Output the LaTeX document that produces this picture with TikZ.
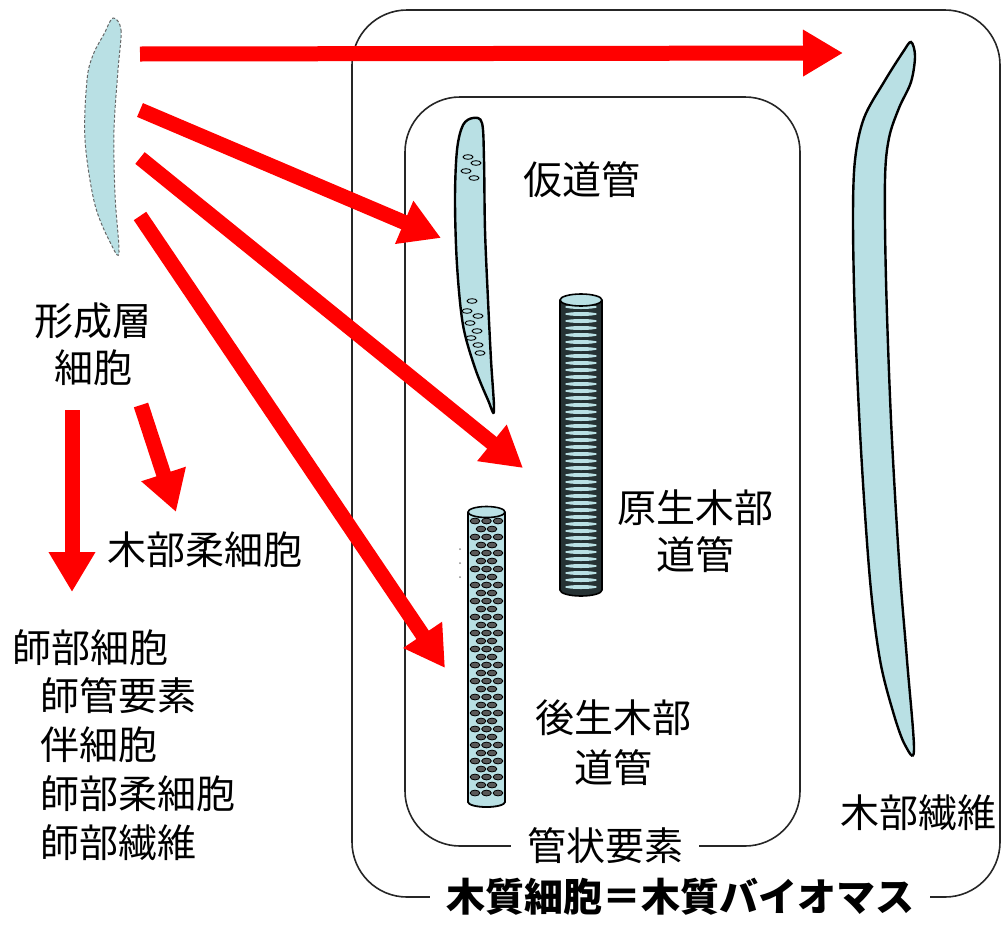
\documentclass[tikz,border=0pt]{standalone}
\usepackage{fontspec}
\setmainfont{Noto Sans CJK JP}
\usetikzlibrary{arrows.meta}

\definecolor{cellfill}{RGB}{185,224,228}
\definecolor{vesseldark}{RGB}{38,50,52}

\begin{document}
\begin{tikzpicture}[
  x=1pt, y=-1pt,
  redarrow/.style={draw=red, line width=15pt, -{Triangle[length=40pt, width=44pt]}},
  cellwall/.style={draw=black, line width=2.4pt, fill=cellfill},
  boxline/.style={draw=black!85, line width=1.6pt, rounded corners=55pt},
  lbl/.style={font=\fontsize{39}{46}\selectfont, inner sep=0pt},
  boxlbl/.style={lbl, fill=white, inner xsep=16pt, inner ysep=3pt}
]
\useasboundingbox (0,0) rectangle (1003,924);

% Outer and inner groupings
\draw[boxline] (352,10) rectangle (1000,897);
\draw[boxline] (405,97) rectangle (800,846);
\node[boxlbl] (tubelbl) at (605,846) {管状要素};
\node[boxlbl, font=\fontsize{39}{46}\selectfont\bfseries] (woodlbl) at (680,897) {木質細胞＝木質バイオマス};

% Cambium cell
\draw[fill=cellfill, draw=black!60, line width=1pt, densely dashed]
  plot[smooth cycle, tension=0.55] coordinates {(113,18) (121,30) (118,70) (114,130) (115,195) (119,252) (112,246) (95,205) (85,140) (87,80) (93,55) (104,34)};
\node[lbl] (camb1) at (93,321) {形成層};
\node[lbl] (camb2) at (93,368) {細胞};

% Tracheid with bordered pits
\draw[cellwall] plot[smooth cycle, tension=0.55] coordinates {(473,118) (482,123) (484,160) (485,230) (488,300) (491,360) (494,411) (488,400) (475,368) (463,325) (457,265) (455,200) (457,150) (463,125)};
\foreach \x/\y in {468/157, 476/163, 466/171, 474/178, 472/301, 467/311, 478/316, 470/323, 477/331, 471/338, 478/345, 480/353}
  \draw[line width=0.9pt, fill=cellfill] (\x,\y) ellipse (5 and 2.3);
\node[lbl] (tracheid) at (582,180) {仮道管};

% Protoxylem vessel, annular thickenings
\fill[vesseldark] (560,300) rectangle (602,590);
\fill[vesseldark] (581,590) ellipse (21 and 6);
\foreach \y in {307,314,...,588}
  \fill[cellfill] (581,\y) ellipse (16 and 2);
\draw[line width=1.6pt] (560,300) -- (560,590) arc (180:0:21 and 6) -- (602,300);
\draw[line width=1.6pt, fill=cellfill] (581,300) ellipse (21 and 6);
\node[lbl] (proto1) at (695,508) {原生木部};
\node[lbl] (proto2) at (695,555) {道管};

% Metaxylem vessel, pitted wall
\fill[cellfill] (468,512) rectangle (505,802);
\fill[cellfill] (486.5,802) ellipse (18.5 and 5);
\foreach \y in {521,537,...,794}
  \foreach \x in {475,486.5,498}
    \draw[line width=0.8pt, fill=black!65] (\x,\y) ellipse (4.8 and 2.9);
\foreach \y in {529,545,...,786}
  \foreach \x in {481,492}
    \draw[line width=0.8pt, fill=black!65] (\x,\y) ellipse (4.8 and 2.9);
\draw[line width=1.8pt] (468,512) -- (468,802) arc (180:0:18.5 and 5) -- (505,512);
\draw[line width=1.6pt, fill=cellfill] (486.5,512) ellipse (18.5 and 5.5);
\foreach \y in {549,563,577}
  \fill[black!45] (460,\y) circle (1pt);
\node[lbl] (meta1) at (613,718) {後生木部};
\node[lbl] (meta2) at (613,768) {道管};

% Xylem fibre
\draw[cellwall] plot[smooth cycle, tension=0.55] coordinates {(911,42) (915,56) (911,82) (899,108) (889,138) (885,180) (886,280) (891,420) (899,560) (907,660) (914,750) (905,745) (894,715) (880,660) (870,580) (861,450) (855,320) (853,220) (855,160) (864,118) (884,82) (903,52)};
\node[lbl] (fibre) at (918,813) {木部繊維};

% Phloem side
\node[lbl] (xpar) at (205,550) {木部柔細胞};
\node[lbl, anchor=west] (phl) at (12,648) {師部細胞};
\node[lbl, anchor=west] (phl1) at (40,696) {師管要素};
\node[lbl, anchor=west] (phl2) at (40,745) {伴細胞};
\node[lbl, anchor=west] (phl3) at (40,794) {師部柔細胞};
\node[lbl, anchor=west] (phl4) at (40,843) {師部繊維};

% Arrow ends
\coordinate (s1) at (140,54);   \coordinate (t1) at (843,53);
\coordinate (s2) at (140,110);  \coordinate (t2) at (441,238);
\coordinate (s3) at (140,158);  \coordinate (t3) at (523,468);
\coordinate (s4) at (140,216);  \coordinate (t4) at (445,668);
\coordinate (s5) at (72,410);   \coordinate (t5) at (72,592);
\coordinate (s6) at (141,405);  \coordinate (t6) at (176,512);

% Differentiation arrows
\foreach \i in {1,...,6}
  \draw[redarrow] (s\i) -- (t\i);

\end{tikzpicture}
\end{document}
